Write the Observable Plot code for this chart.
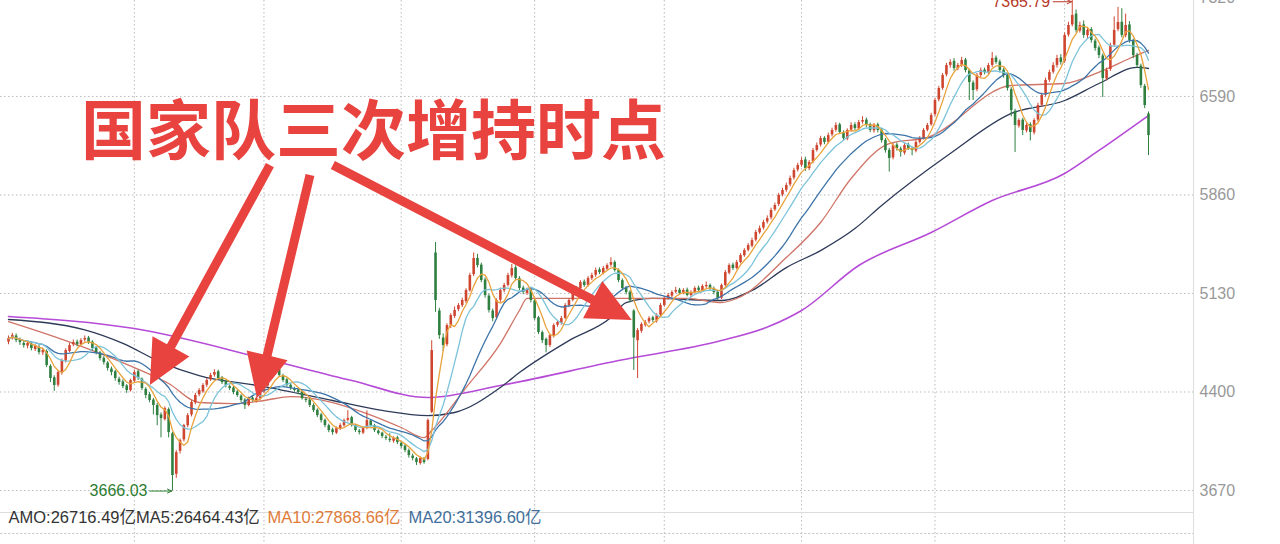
<!DOCTYPE html>
<html><head><meta charset="utf-8">
<script src="https://cdn.jsdelivr.net/npm/d3@7"></script>
<script src="https://cdn.jsdelivr.net/npm/@observablehq/plot@0.6"></script>
<style>
html,body{margin:0;padding:0;background:#fff;}
#chart{width:1280px;height:544px;overflow:hidden;}
</style></head><body><div id="chart"></div>
<script>
const opens = [
4770,4800,4815,4785,4760,4740,4755,4715,4730,4690,
4700,4590,4505,4450,4540,4630,4700,4750,4770,4750,
4785,4800,4770,4725,4690,4650,4615,4570,4550,4495,
4475,4445,4410,4480,4550,4495,4420,4380,4340,4300,
4230,4195,4270,4090,3790,3960,4045,4150,4230,4320,
4380,4400,4450,4490,4525,4550,4505,4475,4440,4430,
4400,4370,4340,4300,4355,4330,4350,4400,4445,4505,
4540,4565,4520,4490,4450,4420,4415,4400,4345,4340,
4300,4265,4230,4190,4150,4120,4095,4125,4150,4190,
4210,4150,4110,4095,4130,4185,4150,4110,4095,4065,
4050,4035,4060,4020,4000,3965,3925,3905,3870,3905,
3900,4250,5430,5000,4800,4750,4890,4960,5010,5040,
5070,5150,5270,5390,5340,5230,5110,5000,4950,5080,
5150,5190,5260,5320,5240,5170,5130,5155,5075,4950,
4840,4790,4745,4815,4895,4910,4945,5040,5080,5140,
5165,5215,5190,5240,5265,5305,5280,5310,5340,5360,
5300,5225,5170,5140,5000,4780,4850,4895,4920,4950,
4925,4970,5040,5095,5110,5140,5155,5130,5155,5115,
5135,5170,5150,5180,5190,5165,5140,5095,5190,5280,
5340,5315,5360,5410,5450,5480,5525,5580,5615,5660,
5690,5750,5790,5860,5895,5935,5985,6045,6080,6120,
6055,6105,6190,6230,6280,6250,6305,6340,6380,6320,
6275,6340,6380,6350,6400,6415,6380,6335,6380,6340,
6265,6190,6135,6230,6200,6170,6230,6200,6185,6250,
6280,6340,6380,6455,6565,6650,6750,6820,6850,6795,
6820,6860,6780,6690,6640,6745,6785,6765,6820,6875,
6845,6785,6745,6640,6480,6370,6415,6335,6380,6320,
6415,6525,6600,6710,6770,6820,6875,6850,7045,7120,
7200,7075,7120,7040,7085,7000,6950,6890,6720,6790,
6970,7085,7140,7040,7120,7000,6895,6815,6665,6460];
const highs = [
4815,4835,4830,4800,4778,4772,4770,4750,4745,4725,
4712,4602,4520,4555,4645,4720,4760,4785,4785,4795,
4815,4812,4780,4738,4700,4662,4625,4585,4560,4510,
4490,4455,4495,4560,4562,4505,4432,4395,4352,4315,
4245,4290,4282,4100,3965,4052,4160,4240,4335,4390,
4425,4462,4500,4538,4565,4562,4515,4488,4452,4440,
4412,4380,4352,4362,4368,4365,4408,4460,4515,4558,
4575,4578,4532,4500,4462,4435,4428,4410,4358,4352,
4312,4275,4242,4200,4162,4132,4140,4165,4200,4262,
4220,4160,4122,4140,4260,4195,4160,4120,4102,4078,
4090,4068,4072,4032,4010,3978,3940,3915,3918,3915,
4200,4780,5508,5020,4830,4905,4980,5030,5055,5095,
5165,5280,5430,5420,5355,5245,5125,5015,5090,5170,
5205,5280,5345,5335,5255,5185,5170,5168,5085,4960,
4852,4800,4830,4905,4930,4960,5055,5092,5150,5180,
5225,5230,5255,5280,5318,5320,5330,5350,5395,5372,
5312,5238,5182,5150,5010,4870,4912,4930,4958,4962,
4980,5055,5105,5130,5150,5175,5168,5165,5170,5150,
5180,5185,5195,5215,5200,5178,5150,5200,5300,5350,
5355,5375,5425,5462,5500,5540,5598,5630,5672,5705,
5762,5800,5872,5910,5948,6000,6058,6095,6135,6140,
6115,6205,6245,6295,6292,6318,6355,6395,6392,6335,
6350,6395,6395,6412,6440,6430,6392,6390,6392,6352,
6278,6205,6240,6245,6215,6240,6245,6215,6262,6292,
6352,6390,6465,6575,6665,6760,6835,6862,6870,6835,
6880,6872,6792,6705,6760,6800,6800,6835,6915,6890,
6860,6800,6760,6655,6495,6425,6428,6390,6395,6425,
6540,6615,6725,6785,6840,6895,6900,7060,7140,7366,
7230,7140,7150,7100,7100,7015,6965,6905,6800,6985,
7180,7250,7240,7200,7145,7015,6910,6830,6680,6475];
const lows = [
4750,4785,4765,4745,4725,4720,4705,4700,4675,4670,
4580,4470,4405,4435,4525,4615,4690,4735,4735,4740,
4770,4752,4705,4675,4630,4600,4555,4520,4480,4450,
4425,4390,4400,4470,4485,4410,4350,4320,4230,4150,
4060,4185,4060,3666,3760,3940,4030,4135,4215,4305,
4365,4390,4435,4478,4510,4490,4455,4430,4410,4380,
4360,4320,4270,4290,4325,4318,4340,4390,4435,4495,
4528,4510,4470,4435,4412,4398,4380,4340,4320,4285,
4248,4210,4170,4135,4098,4080,4085,4115,4140,4178,
4140,4100,4082,4085,4120,4140,4100,4080,4055,4040,
4025,4020,4010,3980,3950,3910,3890,3855,3858,3865,
3890,4240,4990,4790,4700,4735,4870,4945,4995,5025,
5055,5140,5255,5320,5210,5095,4985,4920,4935,5065,
5135,5178,5245,5225,5150,5120,5115,5060,4930,4825,
4760,4690,4730,4800,4880,4895,4935,5025,5068,5125,
5150,5175,5178,5225,5250,5270,5268,5298,5325,5288,
5210,5150,5120,5060,4560,4500,4835,4880,4905,4915,
4910,4958,5028,5080,5098,5128,5118,5120,5105,5100,
5125,5140,5140,5168,5150,5120,5075,5085,5178,5268,
5300,5305,5350,5398,5438,5468,5512,5568,5600,5645,
5675,5738,5775,5845,5880,5920,5970,6030,6065,6035,
6040,6090,6178,6215,6232,6238,6290,6325,6310,6262,
6262,6325,6338,6335,6385,6360,6322,6318,6320,6245,
6170,6030,6120,6185,6140,6155,6190,6150,6172,6238,
6268,6328,6370,6440,6550,6635,6735,6800,6778,6780,
6805,6765,6560,6560,6625,6730,6750,6750,6805,6828,
6765,6725,6630,6440,6175,6355,6300,6320,6260,6305,
6400,6512,6585,6695,6755,6800,6822,6835,7030,7105,
7060,7060,7020,7020,6985,6925,6870,6582,6705,6775,
6955,7070,7025,7025,6985,6870,6800,6650,6500,6152];
const closes = [
4796,4818,4781,4766,4744,4759,4722,4737,4692,4707,
4596,4500,4448,4544,4633,4707,4744,4766,4752,4781,
4796,4766,4722,4692,4648,4618,4574,4544,4500,4470,
4440,4411,4485,4544,4500,4426,4374,4337,4300,4225,
4203,4277,4099,3781,3951,4040,4151,4225,4322,4374,
4411,4448,4485,4522,4544,4500,4470,4448,4426,4396,
4374,4337,4300,4351,4337,4351,4396,4448,4500,4544,
4559,4522,4485,4448,4426,4411,4396,4351,4337,4300,
4262,4225,4188,4151,4114,4099,4129,4151,4188,4203,
4151,4114,4099,4129,4188,4151,4114,4092,4070,4055,
4040,4055,4025,3996,3966,3929,3907,3877,3907,3877,
4188,4707,5078,4818,4744,4892,4966,5004,5041,5078,
5152,5263,5389,5337,5226,5115,5004,4944,5078,5152,
5189,5263,5315,5241,5167,5137,5152,5078,4944,4841,
4781,4744,4818,4892,4915,4944,5041,5078,5137,5167,
5211,5189,5241,5263,5300,5285,5315,5337,5359,5300,
5226,5167,5137,5078,4800,4855,4900,4915,4944,4930,
4966,5041,5093,5115,5137,5152,5130,5152,5115,5137,
5167,5152,5182,5189,5167,5137,5093,5189,5285,5337,
5315,5359,5411,5448,5485,5522,5582,5611,5656,5685,
5745,5782,5856,5893,5930,5982,6041,6078,6115,6056,
6100,6189,6226,6278,6249,6300,6338,6375,6323,6278,
6338,6375,6352,6397,6412,6375,6338,6375,6338,6263,
6189,6130,6226,6204,6175,6226,6204,6189,6249,6278,
6338,6375,6449,6560,6649,6745,6819,6842,6797,6819,
6856,6782,6693,6634,6745,6782,6767,6819,6871,6842,
6782,6745,6649,6486,6375,6412,6338,6375,6323,6412,
6523,6597,6708,6767,6819,6871,6842,7042,7116,7190,
7079,7116,7042,7079,7005,6945,6893,6723,6782,6968,
7079,7138,7042,7116,7005,6893,6819,6671,6523,6300];

// Long moving averages (candle index, value)
const ma60Idx = [0,15,33,42,50,59,67,74,85,94,103,109,111,120,129,134,136,147,160,178,187,191,204,213,221,231,241,263,277,287,294,299];
const ma60Val = [4922,4781,4581,4463,4322,4314,4337,4366,4322,4240,4137,4062,4114,4433,4759,5004,5093,5093,5093,5093,5063,5093,5396,5656,5982,6241,6286,6671,6686,6782,6871,6931];
const ma120Idx = [0,20,30,40,50,67,85,98,110,117,129,134,147,158,162,169,187,195,204,213,222,229,247,263,277,286,296,299];
const ma120Val = [4937,4860,4760,4620,4522,4440,4337,4263,4225,4248,4433,4544,4781,4952,5063,5093,5078,5152,5322,5448,5611,5782,6167,6464,6560,6686,6805,6797];
const ma250Idx = [0,33,67,90,110,129,160,187,200,208,223,242,258,277,286,299];
const ma250Val = [4959,4870,4648,4485,4359,4448,4633,4781,4892,5004,5337,5582,5819,6019,6190,6449];

const yTicks = [3670,4400,5130,5860,6590,7320];
const gridIdx = [33,67,103,138,172,208,243,277];
const titleText = ["国家队三次增持时点"];
const arrows = [
  {x1: 68.7, y1: 6078, x2: 37.2, y2: 4448},
  {x1: 79.2, y1: 6004, x2: 65.3, y2: 4351},
  {x1: 85.2, y1: 6078, x2: 163.6, y2: 4930}
];
const lowMark = [{i: 43, v: 3666.03, label: "3666.03"}];
const highMark = [{i: 279, v: 7365.79, label: "7365.79"}];
const volLegend = ["AMO:26716.49亿MA5:26464.43亿", "MA10:27868.66亿", "MA20:31396.60亿"];

const rows = closes.map((c, i) => ({i, o: opens[i], h: highs[i], l: lows[i], c}));
const toLine = (idx, val) => idx.map((i, k) => ({i, v: val[k]}));

const UP = "#cf4630", DOWN = "#2f8040";
const font = "'Liberation Sans', Arial, 'Noto Sans CJK SC', sans-serif";

const chart = Plot.plot({
  width: 1280, height: 544,
  marginTop: 0, marginBottom: 32, marginLeft: 0, marginRight: 87,
  style: {fontFamily: font, background: "#fff", overflow: "visible"},
  x: {domain: [-2.1, 310.8], axis: null},
  y: {domain: [3507, 7301], axis: null},
  marks: [
    Plot.ruleX(gridIdx, {stroke: "#bbb", strokeDasharray: "1.5,2.5", insetBottom: -32}),
    Plot.ruleY(yTicks, {stroke: "#bbb", strokeDasharray: "1.5,2.5"}),
    Plot.frame({anchor: "bottom", stroke: "#ddd"}),
    Plot.frame({anchor: "bottom", stroke: "#ccc", strokeDasharray: "1.5,2.5", dy: 21}),
    Plot.frame({anchor: "right", stroke: "#ddd", insetBottom: -32}),
    Plot.axisY(yTicks, {anchor: "right", tickSize: 0, tickPadding: 6, tickFormat: "d", fontSize: 16, color: "#999", label: null}),
    Plot.line(toLine(ma250Idx, ma250Val), {x: "i", y: "v", curve: "monotone-x", stroke: "#b64bd8", strokeWidth: 1.6}),
    Plot.line(toLine(ma120Idx, ma120Val), {x: "i", y: "v", curve: "monotone-x", stroke: "#2d3a58", strokeWidth: 1.3}),
    Plot.line(toLine(ma60Idx, ma60Val), {x: "i", y: "v", curve: "monotone-x", stroke: "#cf7466", strokeWidth: 1.3}),
    Plot.ruleX(rows, {filter: d => d.c >= d.o, x: "i", y1: "l", y2: "h", stroke: UP, strokeWidth: 1}),
    Plot.ruleX(rows, {filter: d => d.c < d.o, x: "i", y1: "l", y2: "h", stroke: DOWN, strokeWidth: 1}),
    Plot.ruleX(rows, {filter: d => d.c >= d.o, x: "i", y1: "o", y2: "c", stroke: UP, strokeWidth: 2.6}),
    Plot.ruleX(rows, {filter: d => d.c < d.o, x: "i", y1: "o", y2: "c", stroke: DOWN, strokeWidth: 2.6}),
    Plot.lineY(rows, Plot.windowY({k: 20, anchor: "end"}, {x: "i", y: "c", stroke: "#3d74a8", strokeWidth: 1.3})),
    Plot.lineY(rows, Plot.windowY({k: 10, anchor: "end"}, {x: "i", y: "c", stroke: "#7cc3da", strokeWidth: 1.3})),
    Plot.lineY(rows, Plot.windowY({k: 5, anchor: "end"}, {x: "i", y: "c", stroke: "#e8a33d", strokeWidth: 1.3})),
    Plot.text(lowMark, {x: "i", y: "v", text: "label", textAnchor: "end", dx: -25, fill: "#2e7d32", fontSize: 16}),
    Plot.arrow(lowMark, {x1: d => d.i - 6, x2: d => d.i - 0.2, y1: "v", y2: "v", stroke: "#2e7d32", strokeWidth: 1, headLength: 7, headAngle: 50}),
    Plot.text(highMark, {x: "i", y: "v", text: "label", textAnchor: "end", dx: -22, dy: 10, fill: "#b83a2a", fontSize: 16}),
    Plot.arrow(highMark, {x1: d => d.i - 5, x2: d => d.i - 0.2, y1: "v", y2: "v", dy: 10, stroke: "#b83a2a", strokeWidth: 1, headLength: 7, headAngle: 50}),
    Plot.text(titleText, {frameAnchor: "top-left", dx: 373, dy: 107, text: d => d, textAnchor: "middle", fontSize: 65, fontWeight: "bold", fill: "#e8433f", fontFamily: "'Noto Sans CJK SC', sans-serif"}),
    Plot.text([volLegend[0]], {frameAnchor: "bottom-left", dx: 8, dy: 10, text: d => d, textAnchor: "start", fontSize: 16.5, fill: "#333"}),
    Plot.text([volLegend[1]], {frameAnchor: "bottom-left", dx: 267, dy: 10, text: d => d, textAnchor: "start", fontSize: 16.5, fill: "#e07b39"}),
    Plot.text([volLegend[2]], {frameAnchor: "bottom-left", dx: 408, dy: 10, text: d => d, textAnchor: "start", fontSize: 16.5, fill: "#3f6f9a"})
  ]
});

// Big annotation arrows, positioned through the plot's own scales
const sx = chart.scale("x"), sy = chart.scale("y");
const g = d3.select(chart).append("g").attr("fill", "#e8433f");
for (const a of arrows) {
  const x1 = sx.apply(a.x1), y1 = sy.apply(a.y1), x2 = sx.apply(a.x2), y2 = sy.apply(a.y2);
  const dx = x2 - x1, dy = y2 - y1, L = Math.hypot(dx, dy);
  const ux = dx / L, uy = dy / L, nx = -uy, ny = ux;
  const H = 44, W = 21, w = 4.5;
  const bx = x2 - ux * H, by = y2 - uy * H;
  const pts = [[x1 + nx * w, y1 + ny * w], [bx + nx * w, by + ny * w], [bx + nx * W, by + ny * W], [x2, y2],
               [bx - nx * W, by - ny * W], [bx - nx * w, by - ny * w], [x1 - nx * w, y1 - ny * w]];
  g.append("polygon").attr("points", pts.map(p => p.join(",")).join(" "));
}
document.getElementById("chart").appendChild(chart);
</script>
</body></html>
